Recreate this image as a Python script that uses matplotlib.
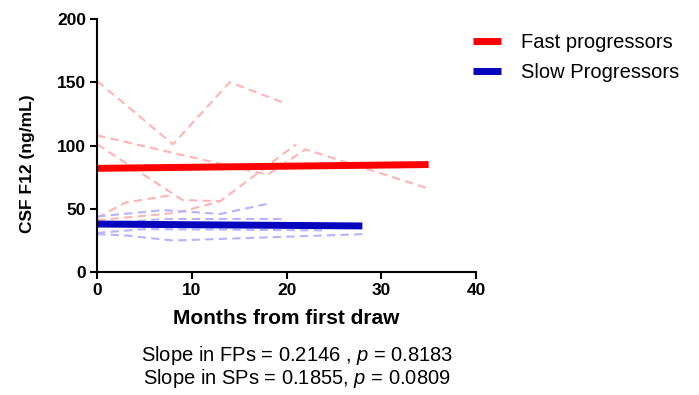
import matplotlib
matplotlib.use("Agg")
import matplotlib.pyplot as plt

plt.rcParams['font.family'] = ['Liberation Sans', 'DejaVu Sans']
plt.rcParams['mathtext.fontset'] = 'custom'
plt.rcParams['mathtext.rm'] = 'Liberation Sans'
plt.rcParams['mathtext.it'] = 'Liberation Sans:italic'

# individual fast progressors (months, ng/mL)
fp_months = [[0, 8, 14, 20], [0, 18, 22, 35], [0, 9, 13], [0, 3, 8], [0, 8.5, 13, 21]]
fp_values = [[151, 101, 150, 133], [108, 77, 97, 66], [101, 57, 56], [43, 55, 61], [41, 47, 56, 101]]

# individual slow progressors
sp_months = [[0, 7, 13, 18], [0, 7, 20], [0, 3, 8, 28], [0, 5, 24]]
sp_values = [[44, 49, 46, 54], [38, 42, 42], [30, 29, 25, 30], [31, 34, 33]]

# group fits
fp_fit_x = [0, 35]
fp_fit_y = [82, 85]
sp_fit_x = [0, 28]
sp_fit_y = [38, 36.5]

fig = plt.figure(figsize=(6.99, 3.95), dpi=100)
ax = fig.add_axes([0.139, 0.311, 0.542, 0.641])

for mx, vy in zip(fp_months, fp_values):
    ax.plot(mx, vy, color='#ffb4b4', lw=1.5, dashes=(4, 2.5), clip_on=False)
for mx, vy in zip(sp_months, sp_values):
    ax.plot(mx, vy, color='#b4b4ff', lw=1.5, dashes=(4, 2.5), clip_on=False)

ax.plot(fp_fit_x, fp_fit_y, color='#ff0000', lw=5, solid_capstyle='butt',
        label='Fast progressors', clip_on=False)
ax.plot(sp_fit_x, sp_fit_y, color='#0606bc', lw=5, solid_capstyle='butt',
        label='Slow Progressors', clip_on=False)

ax.set_xlim(0, 40)
ax.set_ylim(0, 200)
ax.set_xticks([0, 10, 20, 30, 40])
ax.set_yticks([0, 50, 100, 150, 200])

for s in ['top', 'right']:
    ax.spines[s].set_visible(False)
for s in ['left', 'bottom']:
    ax.spines[s].set_linewidth(1.5)
ax.tick_params(width=1.5, length=5, labelsize=12.5, pad=3)
for lab in ax.get_xticklabels() + ax.get_yticklabels():
    lab.set_fontweight('bold')

ax.set_xlabel('Months from first draw', fontsize=15, fontweight='bold', labelpad=8)
ax.set_ylabel('CSF F12 (ng/mL)', fontsize=12.5, fontweight='bold')
ax.yaxis.set_label_coords(-0.165, 0.43)

ax.legend(loc='upper left', bbox_to_anchor=(0.955, 1.0), frameon=False,
          fontsize=14.5, handlelength=1.4, handletextpad=1.0, labelspacing=0.55,
          borderaxespad=0.3)

fig.text(0.425, 0.099, r'Slope in FPs = 0.2146 , $\it{p}$ = 0.8183',
         ha='center', va='center', fontsize=14.5)
fig.text(0.425, 0.043, r'Slope in SPs = 0.1855, $\it{p}$ = 0.0809',
         ha='center', va='center', fontsize=14.5)

fig.savefig('out.png', dpi=100)
